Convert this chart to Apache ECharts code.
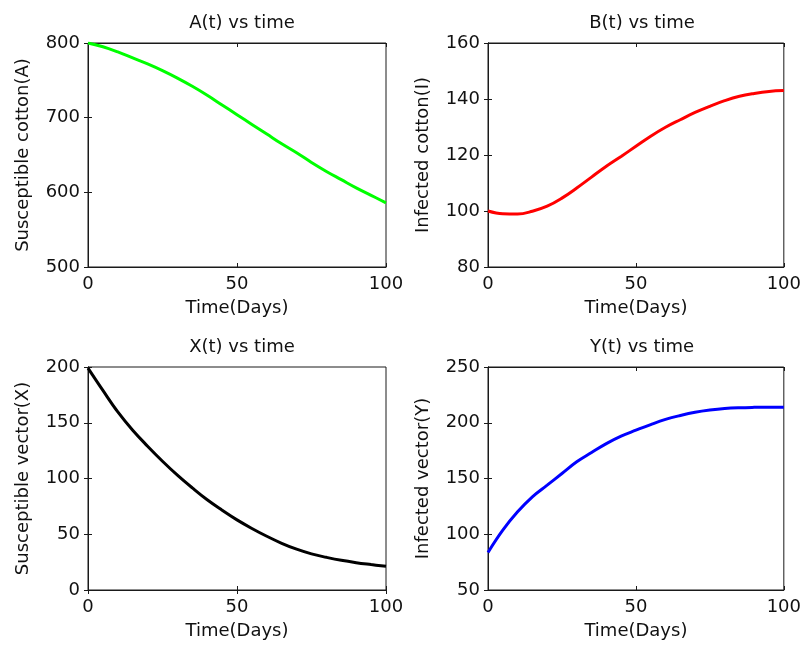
<!DOCTYPE html>
<html>
<head>
<meta charset="utf-8">
<title>SIR cotton model</title>
<script src="https://cdn.jsdelivr.net/npm/echarts@6/dist/echarts.min.js"></script>
<style>
    html, body { margin: 0; padding: 0; background: #fff; }
    #main { width: 804px; height: 653px; }
</style>
</head>
<body>
<div id="main"></div>
<script>
// time steps (days)
var days = [0, 5, 10, 15, 20, 25, 30, 35, 40, 45, 50, 55, 60, 65, 70, 75, 80, 85, 90, 95, 100];

// values
var susceptibleCotton = [800, 795, 788, 780, 772, 763, 753, 742, 730, 717, 704, 691, 678, 665, 653, 640, 628, 617, 606, 596, 586];
var infectedCotton = [100, 99.0, 98.9, 99.9, 101.7, 104.6, 108.2, 112.1, 116.0, 119.5, 123.1, 126.7, 129.9, 132.6, 135.2, 137.4, 139.4, 141.0, 142.0, 142.7, 143.0];
var susceptibleVector = [199, 179, 159.7, 143.3, 129, 115.5, 103, 91.6, 80.9, 71.6, 62.9, 55.2, 48.2, 41.9, 36.6, 32.4, 29.3, 26.6, 24.5, 22.8, 21.2];
var infectedVector = [83.7, 103.7, 120.1, 133.6, 144, 154.5, 165, 173.3, 181.3, 188.0, 193.3, 198.4, 203.0, 206.5, 209.4, 211.4, 212.8, 213.5, 213.8, 213.9, 214.0];

var titles = ['A(t) vs time', 'B(t) vs time', 'X(t) vs time', 'Y(t) vs time'];
var yNames = ['Susceptible cotton(A)', 'Infected cotton(I)', 'Susceptible vector(X)', 'Infected vector(Y)'];
var yMins = [500, 80, 0, 50];
var yMaxs = [800, 160, 200, 250];
var yIntervals = [100, 20, 50, 50];
var colors = ['#00ff00', '#ff0000', '#000000', '#0000ff'];
var allSeries = [susceptibleCotton, infectedCotton, susceptibleVector, infectedVector];

var chart = echarts.init(document.getElementById('main'));

var font = 'DejaVu Sans';
var panels = [
    {left: 88, top: 43, width: 298, height: 224},
    {left: 488, top: 43, width: 298, height: 224},
    {left: 88, top: 367, width: 298, height: 223},
    {left: 488, top: 367, width: 298, height: 223}
];

var grid = [], xAxis = [], yAxis = [], series = [], title = [];

for (var i = 0; i < 4; i++) {
    var p = panels[i];
    grid.push({left: p.left, top: p.top, width: p.width, height: p.height,
        show: true, borderColor: '#1a1a1a', borderWidth: 1, backgroundColor: '#fff'});

    title.push({
        text: titles[i],
        left: p.left + p.width / 2,
        top: p.top - 34,
        textAlign: 'center',
        textStyle: {fontFamily: font, fontSize: 18, fontWeight: 'normal', color: '#111'}
    });

    var lineStyle = {color: '#1a1a1a', width: 1};
    // bottom axis
    xAxis.push({
        gridIndex: i, type: 'value', min: 0, max: 100, interval: 50,
        name: 'Time(Days)', nameLocation: 'middle', nameGap: 32,
        nameTextStyle: {fontFamily: font, fontSize: 18, color: '#111'},
        axisLine: {lineStyle: lineStyle},
        axisTick: {inside: true, length: 4, lineStyle: lineStyle},
        axisLabel: {fontFamily: font, fontSize: 18, color: '#111', margin: 8},
        splitLine: {show: false}
    });
    // top mirror
    xAxis.push({
        gridIndex: i, type: 'value', min: 0, max: 100, interval: 50, position: 'top',
        axisLine: {lineStyle: lineStyle},
        axisTick: {inside: true, length: 4, lineStyle: lineStyle},
        axisLabel: {show: false}, splitLine: {show: false}
    });
    // left axis
    yAxis.push({
        gridIndex: i, type: 'value', min: yMins[i], max: yMaxs[i], interval: yIntervals[i],
        name: yNames[i], nameLocation: 'middle', nameGap: 56,
        nameTextStyle: {fontFamily: font, fontSize: 18, color: '#111'},
        axisLine: {show: true, lineStyle: lineStyle},
        axisTick: {show: true, inside: true, length: 4, lineStyle: lineStyle},
        axisLabel: {fontFamily: font, fontSize: 18, color: '#111', margin: 8},
        splitLine: {show: false}
    });
    // right mirror
    yAxis.push({
        gridIndex: i, type: 'value', min: yMins[i], max: yMaxs[i], interval: yIntervals[i], position: 'right',
        axisLine: {show: true, lineStyle: lineStyle},
        axisTick: {show: true, inside: true, length: 4, lineStyle: lineStyle},
        axisLabel: {show: false}, splitLine: {show: false}
    });

    var pts = [];
    for (var k = 0; k < days.length; k++) {
        pts.push([days[k], allSeries[i][k]]);
    }
    series.push({
        type: 'line',
        xAxisIndex: 2 * i,
        yAxisIndex: 2 * i,
        data: pts,
        smooth: 0.4,
        showSymbol: false,
        lineStyle: {color: colors[i], width: 3},
        z: 1
    });
}

chart.setOption({
    animation: false,
    backgroundColor: '#fff',
    title: title,
    grid: grid,
    xAxis: xAxis,
    yAxis: yAxis,
    series: series
});
</script>
</body>
</html>
